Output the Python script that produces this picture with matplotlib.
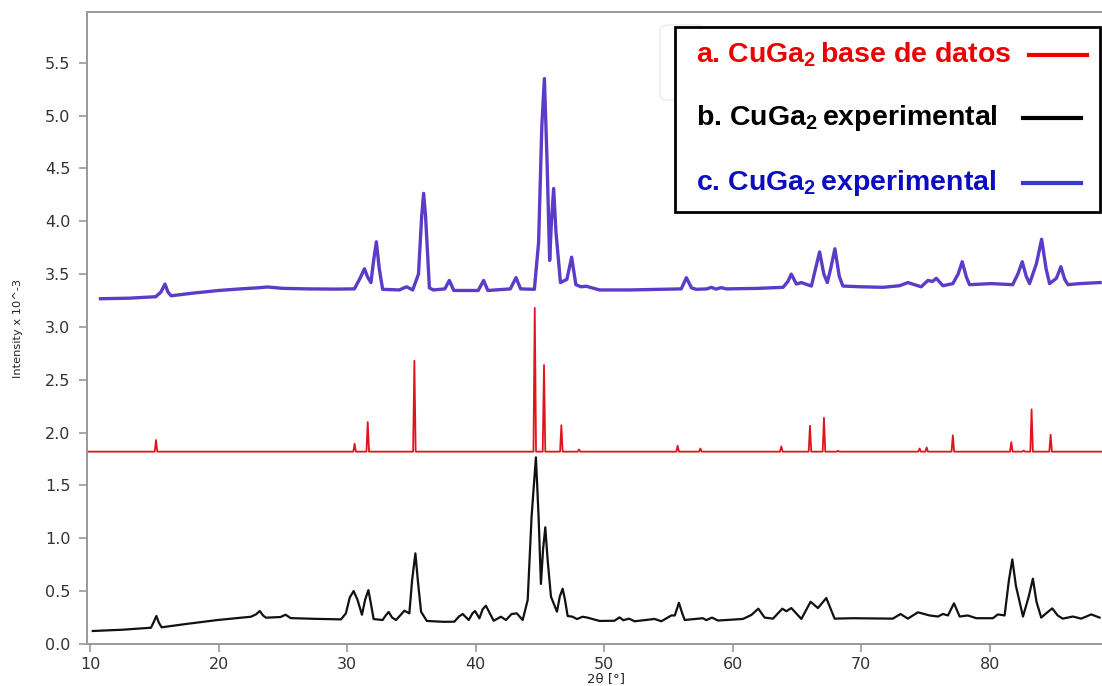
import matplotlib
matplotlib.use("Agg")
import matplotlib.pyplot as plt
from matplotlib.patches import Rectangle, FancyBboxPatch
from matplotlib.lines import Line2D

plt.rcParams["mathtext.fontset"] = "custom"
plt.rcParams["mathtext.rm"] = "Liberation Sans:bold"
plt.rcParams["mathtext.bf"] = "Liberation Sans:bold"

# c. CuGa2 experimental (purple, offset trace)
purple_x = [10.8, 13.0, 15.1, 15.5, 15.82, 16.05, 16.3, 18.0, 20.0, 21.7, 23.0, 23.8, 25.0, 27.0,
            29.0, 30.56, 31.0, 31.34, 31.6, 31.85, 32.05, 32.27, 32.5, 32.76, 34.06, 34.63, 35.1,
            35.55, 35.8, 35.95, 36.1, 36.4, 36.7, 37.6, 37.95, 38.3, 40.2, 40.62, 40.95, 42.7,
            43.14, 43.5, 44.57, 44.9, 45.15, 45.35, 45.55, 45.76, 45.9, 46.07, 46.25, 46.6, 47.1,
            47.47, 47.8, 48.2, 48.6, 49.65, 52.0, 54.0, 56.0, 56.4, 56.8, 57.17, 58.0, 58.34, 58.7,
            59.12, 59.5, 62.0, 63.93, 64.3, 64.57, 64.96, 65.35, 66.13, 66.45, 66.77, 67.1, 67.37,
            67.65, 67.96, 68.3, 68.58, 70.0, 71.7, 73.0, 73.64, 74.68, 75.2, 75.55, 75.85, 76.37,
            77.14, 77.55, 77.87, 78.2, 78.44, 80.13, 81.8, 82.2, 82.54, 82.85, 83.11, 83.65, 84.05,
            84.4, 84.67, 85.2, 85.55, 85.85, 86.1, 87.0, 88.6]
purple_y = [3.267, 3.272, 3.286, 3.33, 3.406, 3.33, 3.295, 3.32, 3.345, 3.36, 3.37, 3.378, 3.365, 3.36,
            3.358, 3.36, 3.46, 3.55, 3.47, 3.42, 3.62, 3.806, 3.55, 3.356, 3.35, 3.38, 3.35,
            3.5, 4.05, 4.264, 4.05, 3.37, 3.35, 3.36, 3.44, 3.345, 3.345, 3.44, 3.345, 3.36,
            3.466, 3.36, 3.356, 3.8, 4.9, 5.35, 4.6, 3.63, 4.0, 4.31, 3.9, 3.42, 3.45,
            3.66, 3.40, 3.38, 3.385, 3.35, 3.35, 3.355, 3.36, 3.466, 3.37, 3.356, 3.36, 3.375, 3.358,
            3.372, 3.36, 3.365, 3.375, 3.43, 3.50, 3.406, 3.42, 3.387, 3.55, 3.71, 3.5, 3.42,
            3.56, 3.74, 3.48, 3.387, 3.38, 3.375, 3.39, 3.42, 3.38, 3.44, 3.43, 3.46, 3.39,
            3.41, 3.5, 3.617, 3.47, 3.40, 3.41, 3.40, 3.5, 3.617, 3.48, 3.41, 3.6, 3.83,
            3.55, 3.41, 3.46, 3.57, 3.45, 3.40, 3.41, 3.42]

# a. CuGa2 database (red stick pattern)
red_base = 1.82
red_pos = [15.12, 30.58, 31.6, 35.23, 44.6, 45.32, 46.67, 48.04, 55.72, 57.49, 63.79,
           66.02, 67.11, 68.2, 74.55, 75.1, 77.14, 81.69, 82.65, 83.27, 84.75]
red_top = [1.93, 1.895, 2.10, 2.68, 3.18, 2.64, 2.07, 1.84, 1.876, 1.85, 1.87,
           2.065, 2.14, 1.828, 1.85, 1.86, 1.975, 1.91, 1.83, 2.22, 1.98]

# b. CuGa2 experimental (black)
black_x = [10.2, 12.5, 14.73, 14.95, 15.15, 15.35, 15.56, 17.5, 19.92, 21.0, 22.51, 22.9, 23.2, 23.45,
           23.68, 24.8, 25.21, 25.6, 27.5, 29.52, 29.9, 30.2, 30.5, 30.8, 31.15, 31.4, 31.65,
           31.85, 32.06, 32.76, 33.0, 33.23, 33.5, 33.8, 34.2, 34.45, 34.84, 35.05, 35.31, 35.5,
           35.75, 36.2, 37.5, 38.34, 38.7, 38.99, 39.46, 39.75, 39.95, 40.29, 40.55, 40.8, 41.1,
           41.4, 41.97, 42.36, 42.8, 43.2, 43.66, 44.05, 44.35, 44.69, 44.9, 45.08, 45.25, 45.42,
           45.6, 45.86, 46.33, 46.55, 46.77, 46.95, 47.16, 47.55, 47.88, 48.33, 48.72, 49.65, 50.8,
           51.2, 51.5, 51.93, 52.37, 53.93, 54.45, 55.23, 55.5, 55.82, 56.05, 56.27, 57.69, 57.95,
           58.39, 58.86, 60.8, 61.45, 62.0, 62.49, 63.14, 63.87, 64.18, 64.57, 65.35, 66.07, 66.64,
           67.29, 67.94, 69.36, 72.47, 73.07, 73.64, 74.42, 75.33, 75.98, 76.37, 76.76, 77.23,
           77.67, 78.31, 78.96, 80.26, 80.64, 81.17, 81.5, 81.77, 82.05, 82.6, 83.05, 83.37, 83.65,
           84.02, 84.5, 84.88, 85.3, 85.7, 86.48, 87.13, 87.91, 88.56]
black_y = [0.123, 0.135, 0.154, 0.21, 0.265, 0.2, 0.158, 0.19, 0.227, 0.24, 0.258, 0.28, 0.312, 0.27,
           0.249, 0.255, 0.277, 0.245, 0.238, 0.233, 0.29, 0.44, 0.501, 0.42, 0.277, 0.42, 0.51,
           0.38, 0.236, 0.227, 0.27, 0.303, 0.25, 0.227, 0.28, 0.315, 0.29, 0.6, 0.858, 0.6,
           0.306, 0.218, 0.21, 0.211, 0.26, 0.284, 0.227, 0.29, 0.312, 0.243, 0.33, 0.362, 0.29,
           0.22, 0.258, 0.227, 0.284, 0.29, 0.227, 0.416, 1.2, 1.766, 1.2, 0.568, 0.9, 1.104,
           0.8, 0.448, 0.306, 0.45, 0.523, 0.42, 0.265, 0.258, 0.236, 0.258, 0.249, 0.218, 0.22,
           0.252, 0.225, 0.24, 0.215, 0.237, 0.215, 0.27, 0.27, 0.39, 0.3, 0.227, 0.244, 0.226,
           0.25, 0.222, 0.237, 0.274, 0.334, 0.25, 0.24, 0.334, 0.31, 0.34, 0.237, 0.40, 0.34,
           0.435, 0.24, 0.244, 0.24, 0.284, 0.24, 0.30, 0.27, 0.26, 0.284, 0.27, 0.385,
           0.26, 0.27, 0.244, 0.244, 0.28, 0.27, 0.6, 0.80, 0.55, 0.26, 0.45, 0.618, 0.4,
           0.25, 0.3, 0.337, 0.27, 0.24, 0.26, 0.24, 0.28, 0.25]

yticks = [0.0, 0.5, 1.0, 1.5, 2.0, 2.5, 3.0, 3.5, 4.0, 4.5, 5.0, 5.5]
xticks = [10, 20, 30, 40, 50, 60, 70, 80]

# stick pattern as a polyline: baseline -> apex -> baseline for each reflection
rx, ry = [9.0], [red_base]
for p, t in zip(red_pos, red_top):
    rx += [p - 0.1, p, p + 0.1]
    ry += [red_base, t, red_base]
rx.append(90.0)
ry.append(red_base)

fig = plt.figure(figsize=(11.02, 6.86), dpi=100)
ax = fig.add_axes([87 / 1102, 1 - 644 / 686, 1 - 87 / 1102, (644 - 12) / 686])

ax.plot(black_x, black_y, color="#111111", lw=1.6)
ax.plot(rx, ry, color="#e0141c", lw=1.3)
ax.plot(purple_x, purple_y, color="#5a3cc8", lw=2.4)

ax.set_xlim(9.75, 88.75)
ax.set_ylim(0.0, 5.98)
ax.set_xticks(xticks)
ax.set_yticks(yticks)
ax.set_yticklabels([f"{v:.1f}" for v in yticks])

for s in ["left", "bottom", "top"]:
    ax.spines[s].set_color("#999999")
    ax.spines[s].set_linewidth(1.4)
ax.spines["right"].set_visible(False)
ax.tick_params(axis="both", direction="out", length=6, width=1.2, color="#999999",
               labelcolor="#333333", labelsize=11.5)
ax.tick_params(axis="y", pad=6)
ax.set_ylabel("Intensity x 10^-3", fontsize=8.2, color="#222222")
ax.yaxis.set_label_coords(-0.063, 0.5)
ax.set_xlabel("2θ [°]", fontsize=9.5, color="#222222")
ax.xaxis.set_label_coords(0.511, -0.045)

# faint ghost of the original legend behind the annotation box
ghost = FancyBboxPatch((660 / 1102, 1 - 100 / 686), 45 / 1102, 75 / 686,
                       boxstyle="round,pad=0,rounding_size=0.008", transform=fig.transFigure,
                       facecolor="white", edgecolor="#eeeeee", lw=1.2)
fig.patches.append(ghost)

box = Rectangle((675 / 1102, 1 - 212 / 686), 425 / 1102, 185 / 686, transform=fig.transFigure,
                facecolor="white", edgecolor="black", lw=2)
fig.patches.append(box)

entries = [
    (r"a. CuGa$_{2}\,$base de datos", "#ee0000", "#ee0000", 55, 1029, 1087),
    (r"b. CuGa$_{2}\,$experimental", "black", "black", 118, 1023, 1081),
    (r"c. CuGa$_{2}\,$experimental", "#0c0cc0", "#3a3acc", 183, 1023, 1081),
]
for label, tcol, lcol, ypix, x0, x1 in entries:
    fig.text(696 / 1102, 1 - ypix / 686, label, color=tcol, fontsize=20.5,
             fontweight="bold", family="Liberation Sans", va="center", ha="left")
    fig.lines.append(Line2D([x0 / 1102, x1 / 1102], [1 - ypix / 686] * 2,
                            transform=fig.transFigure, color=lcol, lw=3))

fig.savefig("out.png", dpi=100, facecolor="white")
